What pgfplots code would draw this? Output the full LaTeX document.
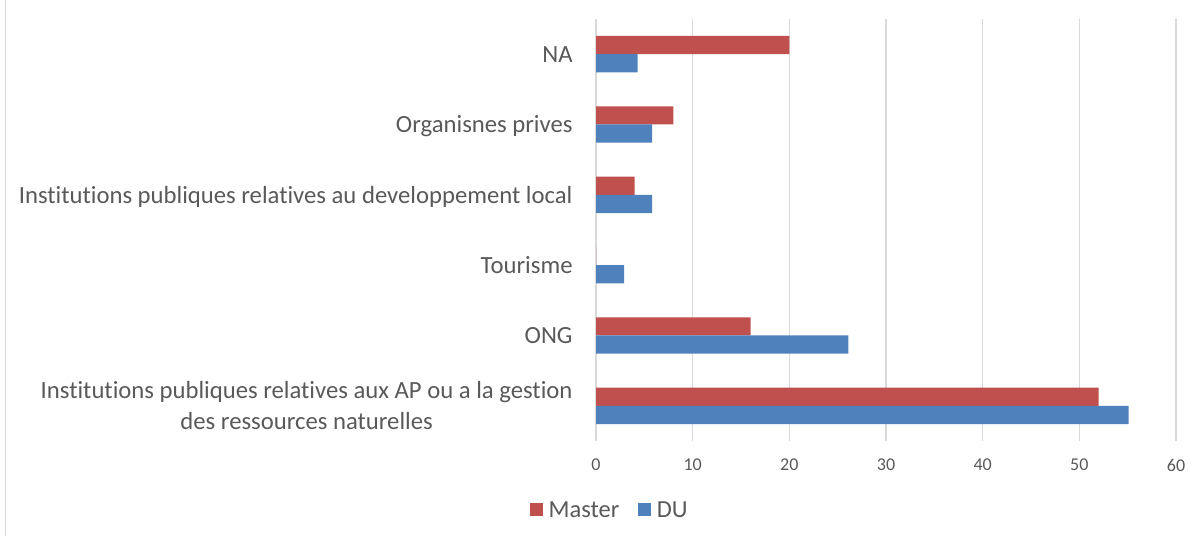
\documentclass[border=0pt]{standalone}
\usepackage{fontspec}
\setmainfont{Carlito}[Ligatures=NoCommon]
\usepackage{pgfplots}
\pgfplotsset{compat=1.18}
\definecolor{master}{HTML}{C0504D}
\definecolor{du}{HTML}{4F81BD}
\definecolor{txt}{HTML}{595959}
\definecolor{grd}{HTML}{D9D9D9}
\begin{document}
\begin{tikzpicture}
\path[use as bounding box] (0bp,0bp) rectangle (1195bp,536bp);
\draw[grd, line width=1bp] (5bp,0bp) -- (5bp,536bp);
\begin{axis}[
  at={(596bp,95bp)}, anchor=south west,
  scale only axis, width=580bp, height=422bp,
  xmin=0, xmax=60, ymin=-0.5, ymax=5.5,
  xbar, bar width=18.2bp,
  xtick={0,10,...,60},
  ytick={0,1,2,3,4,5},
  yticklabels={{Institutions publiques relatives aux AP ou a la gestion\\des ressources naturelles},ONG,Tourisme,Institutions publiques relatives au developpement local,Organisnes prives,NA},
  axis line style={draw=none},
  tick style={draw=none},
  xmajorgrids,
  grid style={grd, line width=1.2bp},
  /pgf/number format/assume math mode=true,
  xticklabel style={font=\fontsize{18bp}{21bp}\selectfont, text=txt, anchor=center, inner sep=0pt, yshift=-24bp},
  yticklabel style={font=\fontsize{24.7bp}{31bp}\selectfont, text=txt, align=center, anchor=east, inner sep=0pt, xshift=-19bp, text depth=0pt},
  legend style={at={(0.024,-0.1635)}, anchor=center, draw=none, legend columns=2,
    font=\fontsize{24.5bp}{28bp}\selectfont, text=txt,
    /tikz/every odd column/.append style={column sep=4bp},
    /tikz/every even column/.append style={column sep=17bp},
    inner sep=0pt},
  legend image code/.code={\fill[#1] (0bp,-6bp) rectangle (12.5bp,6.5bp);},
]
\addplot[fill=master, draw=none, bar shift=9.1bp] coordinates {(52,0) (16,1) (0,2) (4,3) (8,4) (20,5)};
\addplot[fill=du, draw=none, bar shift=-9.1bp] coordinates {(55.1,0) (26.1,1) (2.9,2) (5.8,3) (5.8,4) (4.3,5)};
\legend{Master,DU}
\end{axis}
\end{tikzpicture}
\end{document}
